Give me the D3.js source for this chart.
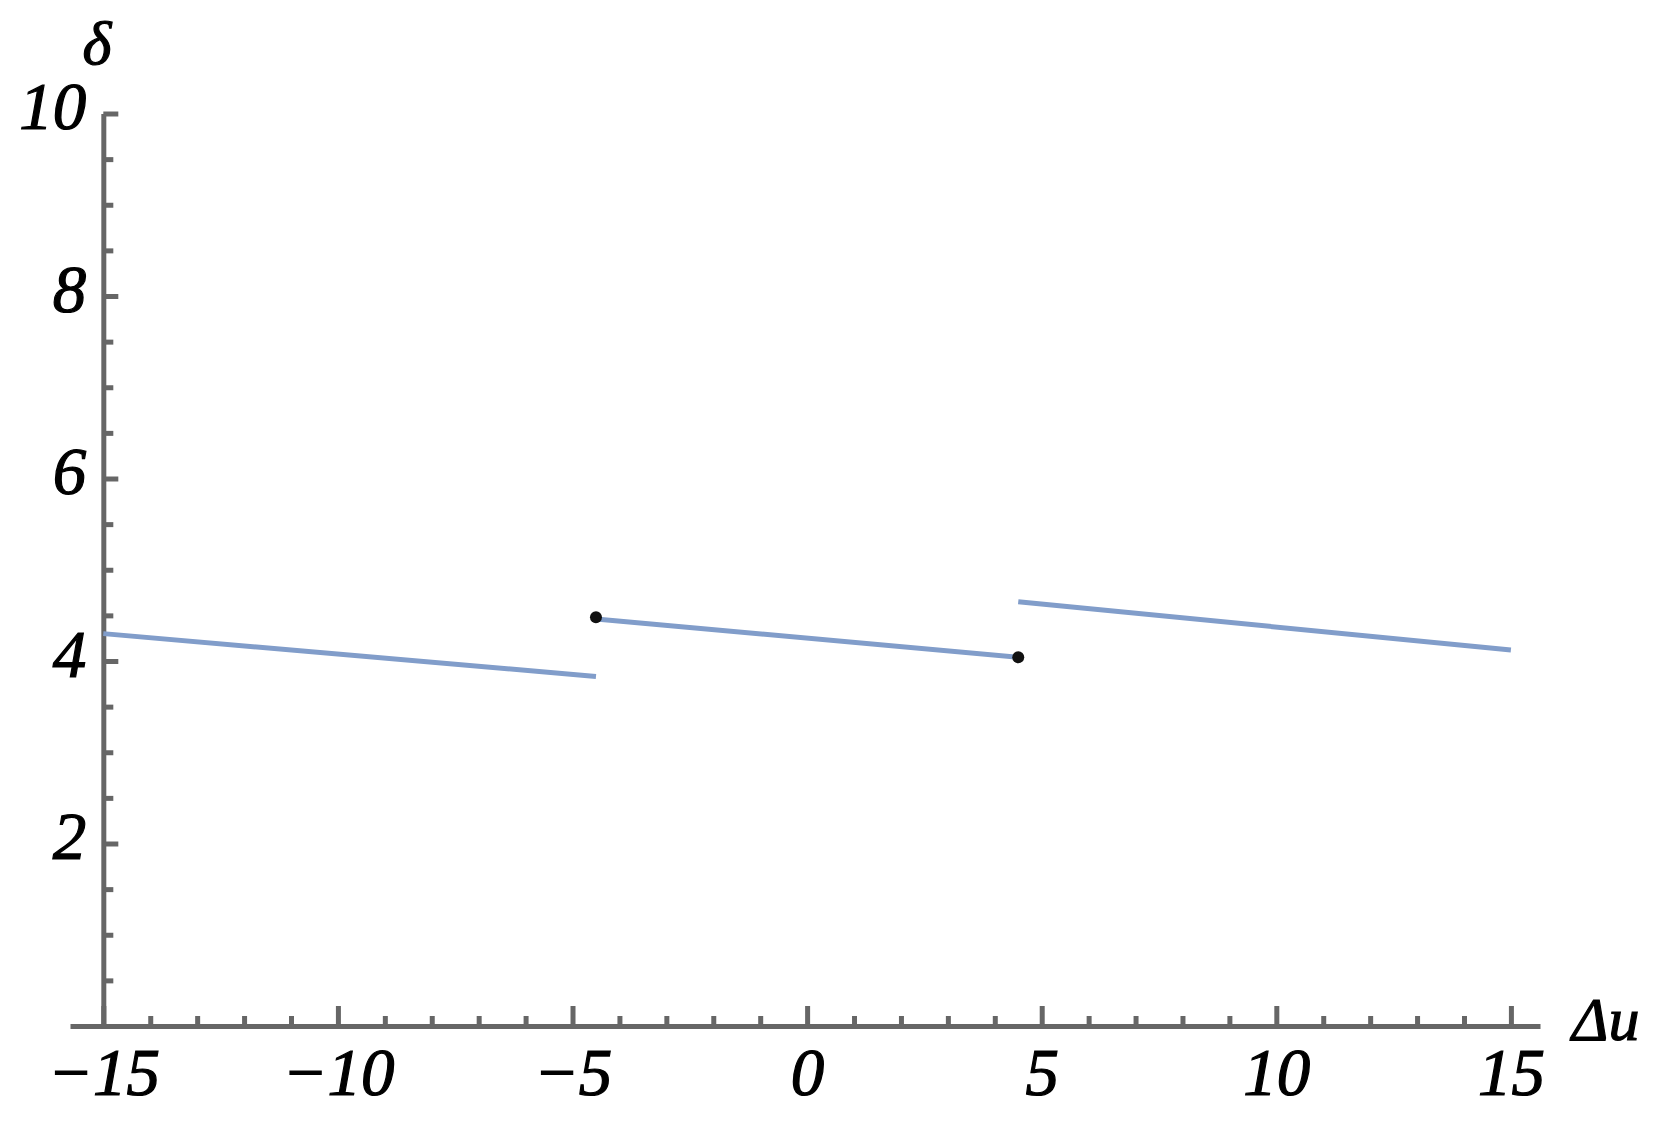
<!DOCTYPE html>
<html>
<head>
<meta charset="utf-8">
<script src="https://cdn.jsdelivr.net/npm/d3@7"></script>
<style>
body { margin: 0; background: #fff; }
svg { display: block; }
svg text.lbl { font-family: "Liberation Serif", serif; font-style: italic; fill: #000; }
</style>
</head>
<body>
<svg id="chart"></svg>
<script>
// values
var seg1X = [-15, -4.5], seg1Y = [4.30, 3.83];
var seg2X = [-4.5, 4.5], seg2Y = [4.46, 4.04];
var seg3X = [4.5, 15], seg3Y = [4.65, 4.12];
var dotX = [-4.5, 4.5], dotY = [4.48, 4.04];

var xMajor = [-15, -10, -5, 0, 5, 10, 15];
var xMinor = [-14, -13, -12, -11, -9, -8, -7, -6, -4, -3, -2, -1, 1, 2, 3, 4, 6, 7, 8, 9, 11, 12, 13, 14];
var yMajor = [2, 4, 6, 8, 10];
var yMinor = [0.5, 1, 1.5, 2.5, 3, 3.5, 4.5, 5, 5.5, 6.5, 7, 7.5, 8.5, 9, 9.5];

var width = 1664, height = 1124;
var axisColor = "#666";

var svg = d3.select("#chart").attr("width", width).attr("height", height);

var x = d3.scaleLinear().domain([-15.71, 15.62]).range([70, 1540]);
var y = d3.scaleLinear().domain([0, 10]).range([1026, 113.5]);

function label(sel, size) {
  sel.attr("class", "lbl")
    .attr("font-family", null)
    .style("font-size", size + "px")
    .style("stroke", "#000")
    .style("stroke-width", "1.2px");
}

// x axis
var gx = svg.append("g").attr("transform", "translate(0," + y(0) + ")");
gx.call(d3.axisBottom(x).tickValues(xMinor).tickSize(-10).tickSizeOuter(0).tickFormat(""));
gx.call(g => g.select(".domain").remove());
var gx2 = svg.append("g").attr("transform", "translate(0," + y(0) + ")");
gx2.call(d3.axisBottom(x).tickValues(xMajor).tickSize(-20).tickSizeOuter(0));

// y axis
var gy = svg.append("g").attr("transform", "translate(" + x(-15) + ",0)");
gy.call(d3.axisLeft(y).tickValues(yMinor).tickSize(-10).tickSizeOuter(0).tickFormat(""));
gy.call(g => g.select(".domain").remove());
var gy2 = svg.append("g").attr("transform", "translate(" + x(-15) + ",0)");
gy2.call(d3.axisLeft(y).tickValues(yMajor).tickSize(-15).tickSizeOuter(0));

svg.selectAll("g").attr("font-family", null);

svg.selectAll(".domain, .tick line")
  .attr("stroke", axisColor)
  .attr("stroke-width", 5);

gx2.selectAll("text").attr("y", 69).attr("dy", null).call(label, 67);
gy2.selectAll("text").attr("x", -17).attr("dy", 15).call(label, 67);

// axis labels
svg.append("text")
  .attr("x", 97).attr("y", 64)
  .attr("text-anchor", "middle")
  .text("δ")
  .call(label, 62);

svg.append("text")
  .attr("x", 1572).attr("y", 1040)
  .text("Δu")
  .call(label, 62);

// curve pieces
var line = d3.line().x(d => x(d[0])).y(d => y(d[1]));
[[seg1X, seg1Y], [seg2X, seg2Y], [seg3X, seg3Y]].forEach(function(s) {
  svg.append("path")
    .datum(d3.zip(s[0], s[1]))
    .attr("fill", "none")
    .attr("stroke", "#819dca")
    .attr("stroke-width", 5)
    .attr("d", line);
});

svg.selectAll("circle.pt")
  .data(d3.zip(dotX, dotY))
  .join("circle")
  .attr("class", "pt")
  .attr("cx", d => x(d[0]))
  .attr("cy", d => y(d[1]))
  .attr("r", 6)
  .attr("fill", "#111");
</script>
</body>
</html>
